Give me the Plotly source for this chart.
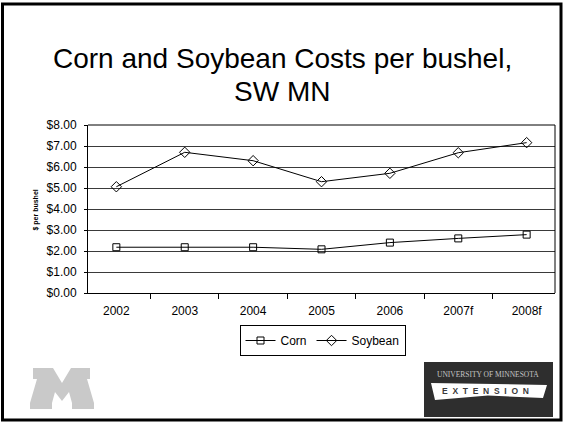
import plotly.graph_objects as go

years = ["2002", "2003", "2004", "2005", "2006", "2007f", "2008f"]
corn = [2.18, 2.18, 2.18, 2.08, 2.40, 2.60, 2.78]
soybean = [5.06, 6.70, 6.30, 5.30, 5.70, 6.68, 7.16]
y_ticks = [0, 1, 2, 3, 4, 5, 6, 7, 8]
y_labels = ["$%.2f" % v for v in y_ticks]

W, H = 564, 424
L, R, T, B = 88, 9, 125, 131
PW, PH = W - L - R, H - T - B


def px(x):
    return (x - L) / PW


def py(y):
    return (H - B - y) / PH


FONT = "Arial, Liberation Sans, sans-serif"

fig = go.Figure()
fig.add_trace(go.Scatter(
    x=years, y=corn, name="Corn", mode="lines+markers",
    line=dict(color="black", width=1),
    marker=dict(symbol="square-open", size=7, color="black", line=dict(width=1)),
))
fig.add_trace(go.Scatter(
    x=years, y=soybean, name="Soybean", mode="lines+markers",
    line=dict(color="black", width=1),
    marker=dict(symbol="diamond-open", size=8, color="black", line=dict(width=1)),
))

shapes = []
# slide border
shapes.append(dict(type="rect", xref="paper", yref="paper",
                   x0=px(2.5), x1=px(561), y0=py(420), y1=py(4),
                   line=dict(color="black", width=3), layer="above"))
# plot top/right border
shapes.append(dict(type="line", xref="paper", yref="paper",
                   x0=0, x1=1, y0=1, y1=1, line=dict(color="black", width=1)))
shapes.append(dict(type="line", xref="paper", yref="paper",
                   x0=1, x1=1, y0=0, y1=1, line=dict(color="black", width=1)))

# M logo (gray block M)
mpts = [(33, 368), (53, 368), (62, 383), (71, 368), (90, 368), (90, 379), (87, 379),
        (94, 403), (94, 409), (72, 409), (72, 403), (69, 392), (62, 401), (55, 392),
        (52, 403), (52, 409), (30, 409), (30, 403), (37, 379), (33, 379)]
path = "M " + " L ".join("%f,%f" % (px(a), py(b)) for a, b in mpts) + " Z"
shapes.append(dict(type="path", xref="paper", yref="paper", path=path,
                   fillcolor="#c9c9c9", line=dict(width=0)))

# Extension logo
shapes.append(dict(type="rect", xref="paper", yref="paper",
                   x0=px(424), x1=px(553), y0=py(417), y1=py(362),
                   fillcolor="#2e2e2e", line=dict(width=0)))
bpts = [(431, 383), (547, 385), (543, 398), (488, 395.5), (435, 400)]
bpath = "M " + " L ".join("%f,%f" % (px(a), py(b)) for a, b in bpts) + " Z"
shapes.append(dict(type="path", xref="paper", yref="paper", path=bpath,
                   fillcolor="white", line=dict(width=0)))

nb = "\u00a0\u00a0"
annotations = [
    dict(text="Corn and Soybean Costs per bushel,", xref="paper", yref="paper",
         x=px(282), y=py(58), showarrow=False, xanchor="center", yanchor="middle",
         font=dict(family=FONT, size=28, color="black")),
    dict(text="SW MN", xref="paper", yref="paper",
         x=px(282), y=py(91), showarrow=False, xanchor="center", yanchor="middle",
         font=dict(family=FONT, size=28, color="black")),
    dict(text="<b>$ per bushel</b>", xref="paper", yref="paper", x=px(35.5), y=py(210),
         showarrow=False, textangle=-90, xanchor="center", yanchor="middle",
         font=dict(family=FONT, size=7, color="black")),
    dict(text="UNIVERSITY OF MINNESOTA", xref="paper", yref="paper", x=px(487.5), y=py(374),
         showarrow=False, xanchor="center", yanchor="middle",
         font=dict(family="Liberation Serif, serif", size=7.5, color="#c4c4c4")),
    dict(text="<b>" + nb.join("EXTENSION") + "</b>", xref="paper", yref="paper",
         x=px(485), y=py(390.5), showarrow=False, xanchor="center", yanchor="middle",
         font=dict(family=FONT, size=8.5, color="#3a3a3a")),
]

fig.update_layout(
    width=W, height=H,
    margin=dict(l=L, r=R, t=T, b=B, pad=0),
    paper_bgcolor="white", plot_bgcolor="white",
    showlegend=True,
    legend=dict(orientation="h", x=px(322.5), y=py(325), xanchor="center", yanchor="top",
                bordercolor="black", borderwidth=1, bgcolor="white",
                font=dict(family=FONT, size=12, color="black"),
                tracegroupgap=0, itemwidth=30),
    font=dict(family=FONT, size=12, color="black"),
    shapes=shapes, annotations=annotations,
)
fig.update_xaxes(
    type="category", showline=True, linecolor="black", linewidth=1,
    ticks="outside", ticklen=5, tickcolor="black", tickson="boundaries",
    showgrid=False, tickfont=dict(size=12), ticklabelstandoff=7,
)
fig.update_yaxes(
    range=[0, 8], tickvals=y_ticks, ticktext=y_labels,
    showline=True, linecolor="black", linewidth=1,
    ticks="outside", ticklen=3, tickcolor="black",
    showgrid=True, gridcolor="#3a3a3a", gridwidth=1, zeroline=False,
    tickfont=dict(size=12), ticklabelstandoff=5,
)

fig.write_html("out.html", config={"displayModeBar": False}, post_script=[
    "document.body.style.margin='0';document.body.style.padding='0';"
    "document.documentElement.style.overflow='hidden';"
])
